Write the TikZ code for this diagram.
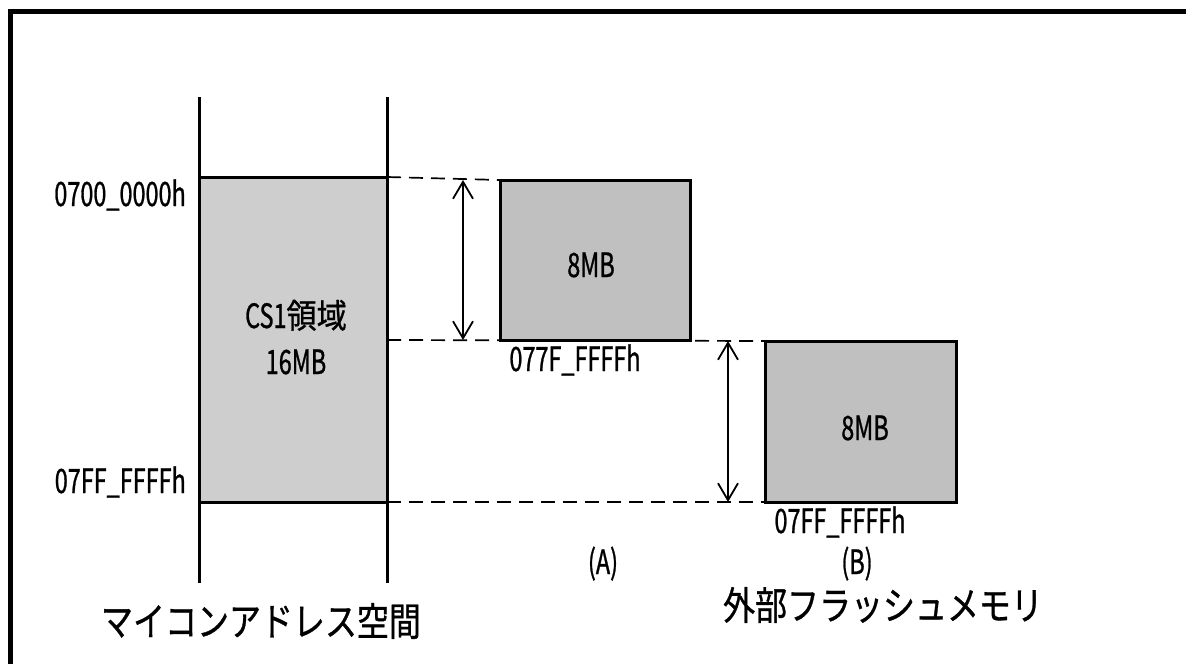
\documentclass[tikz,border=0pt]{standalone}
\usepackage{fontspec}
\usetikzlibrary{arrows.meta}
\newfontfamily\jpn[FakeStretch=0.7,FakeBold=0.8]{Noto Sans CJK JP}
\newfontfamily\jpk[FakeStretch=0.9,FakeBold=0.8]{Noto Sans CJK JP}
\newfontfamily\jpcap[FakeStretch=0.82,FakeBold=0.8]{Noto Sans CJK JP}
\definecolor{csgray}{RGB}{206,206,206}
\definecolor{flgray}{RGB}{192,192,192}
\tikzset{
  membox/.style={draw=black, line width=3pt, inner sep=0pt, outer sep=0pt},
  addr/.style={inner sep=0pt, font=\jpn\fontsize{33.5}{40}\selectfont},
  captext/.style={inner sep=0pt, font=\jpcap\fontsize{39}{46}\selectfont},
  guide/.style={line width=1.7pt, dash pattern=on 14pt off 8pt},
  spanarrow/.style={line width=1.8pt, {Straight Barb[length=17pt,width=20pt,line width=1.8pt]}-{Straight Barb[length=17pt,width=20pt,line width=1.8pt]}},
  axisline/.style={line width=3pt}
}
\begin{document}
\begin{tikzpicture}[x=1pt,y=-1pt]
\useasboundingbox (0,0) rectangle (1186,664);
% frame
\draw[line width=4.5pt] (10.5,664) -- (10.5,11.5) -- (1186,11.5);
% address space boxes
\node[membox, fill=csgray, minimum width=188pt, minimum height=325pt] (cs) at (293,339.5) {};
\node[membox, fill=flgray, minimum width=190pt, minimum height=160pt] (a) at (595,260) {};
\node[membox, fill=flgray, minimum width=191pt, minimum height=161pt] (b) at (860.5,421.5) {};
% vertical axis lines
\coordinate (lt) at (199,97);
\coordinate (lb) at (199,583);
\coordinate (rt) at (387,97);
\coordinate (rb) at (387,583);
\draw[axisline] (lt) -- (lb);
\draw[axisline] (rt) -- (rb);
% guide lines
\draw[guide] (cs.north east) -- (a.north west);
\draw[guide] (cs.east |- a.south) -- (b.north west);
\draw[guide] (cs.south east) -- (b.south west);
% span arrows
\coordinate (at) at (463,180);
\coordinate (ab) at (463,340);
\coordinate (bt) at (728,341);
\coordinate (bb) at (728,502);
\draw[spanarrow] (at) -- (ab);
\draw[spanarrow] (bt) -- (bb);
% labels
\node[addr, anchor=base east] (l1) at (186,206) {0700\_0000h};
\node[addr, anchor=base east] (l2) at (186,493) {07FF\_FFFFh};
\node[addr, anchor=base] (cst) at (296,328) {CS1{\jpk 領域}};
\node[addr, anchor=base] (csm) at (296,374) {16MB};
\node[addr, anchor=base] (am) at (591,277) {8MB};
\node[addr, anchor=base] (al) at (575,371) {077F\_FFFFh};
\node[addr, anchor=base] (bm) at (865,440) {8MB};
\node[addr, anchor=base] (bl) at (840,533) {07FF\_FFFFh};
\node[addr, anchor=base] (la) at (603,574) {(A)};
\node[addr, anchor=base] (lb2) at (857,574) {(B)};
\node[captext] (c1) at (261,621) {マイコンアドレス空間};
\node[captext] (c2) at (883,605) {外部フラッシュメモリ};
\end{tikzpicture}
\end{document}
